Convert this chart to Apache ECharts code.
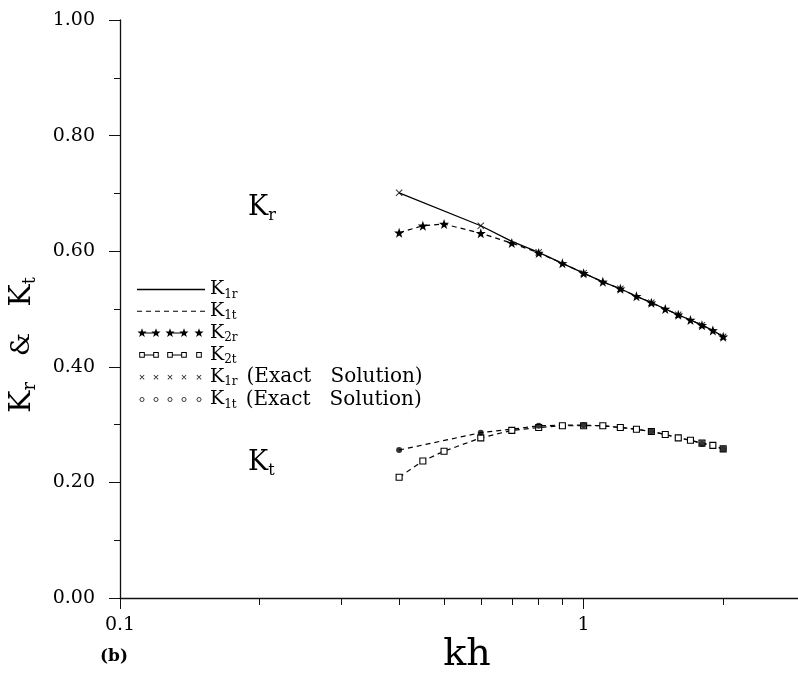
<!DOCTYPE html>
<html>
<head>
<meta charset="utf-8">
<title>Kr & Kt vs kh</title>
<script src="https://cdn.jsdelivr.net/npm/echarts@6/dist/echarts.min.js"></script>
<style>
  html, body { margin: 0; padding: 0; background: #fff; }
  #chart { width: 798px; height: 679px; }
</style>
</head>
<body>
<div id="chart"></div>
<script>
// kh values where the curves were computed
const khK2 = [0.4, 0.45, 0.5, 0.6, 0.7, 0.8, 0.9, 1.0, 1.1, 1.2, 1.3, 1.4, 1.5, 1.6, 1.7, 1.8, 1.9, 2.0]
const k2r = [0.632, 0.644, 0.647, 0.631, 0.614, 0.597, 0.579, 0.562, 0.547, 0.535, 0.522, 0.511, 0.500, 0.490, 0.481, 0.472, 0.463, 0.452]
const k2t = [0.209, 0.237, 0.254, 0.277, 0.290, 0.295, 0.298, 0.298, 0.298, 0.295, 0.292, 0.288, 0.283, 0.277, 0.273, 0.268, 0.264, 0.258]

const khK1 = [0.4, 0.6, 0.7, 0.8, 0.9, 1.0, 1.1, 1.2, 1.3, 1.4, 1.5, 1.6, 1.7, 1.8, 1.9, 2.0]
const k1r = [0.701, 0.644, 0.617, 0.598, 0.579, 0.562, 0.547, 0.535, 0.522, 0.511, 0.500, 0.490, 0.481, 0.472, 0.463, 0.452]
const k1t = [0.256, 0.286, 0.292, 0.298, 0.299, 0.299, 0.298, 0.295, 0.292, 0.288, 0.283, 0.277, 0.273, 0.267, 0.263, 0.258]

// exact solution points
const khExactR = [0.4, 0.6, 0.8, 1.0, 1.2, 1.4, 1.6, 1.8, 2.0]
const k1rExact = [0.701, 0.644, 0.598, 0.562, 0.535, 0.511, 0.490, 0.472, 0.452]
const khExactT = [0.4, 0.6, 0.8, 1.0, 1.4, 1.8, 2.0]
const k1tExact = [0.256, 0.286, 0.298, 0.299, 0.288, 0.267, 0.258]

// axis ticks and labels
const xMinorTicks = [0.2, 0.3, 0.4, 0.5, 0.6, 0.7, 0.8, 0.9, 2]
const xMajorTicks = [0.1, 1]
const xLabels = ['0.1', '1']

const pair = (xs, ys) => xs.map((x, i) => [x, ys[i]])

const FONT = 'DejaVu Serif'
const STAR = 'path://M0,-10 L2.35,-3.24 L9.51,-3.09 L3.8,1.24 L5.88,8.09 L0,4 L-5.88,8.09 L-3.8,1.24 L-9.51,-3.09 L-2.35,-3.24 Z'
const CROSS = 'path://M0,1 L1,0 L5,4 L9,0 L10,1 L6,5 L10,9 L9,10 L5,6 L1,10 L0,9 L4,5 Z'

// legend icons: five little marks in a 70x10 box
const IW = 68
const IH = 10
const CX = [5, 19, 33, 47, 62]
const f = n => n.toFixed(2)
function iconPath (parts) {
  return 'path://M0 0 M' + IW + ' ' + IH + ' ' + parts.join(' ')
}
function bar (x0, x1, y, h) {
  return `M${f(x0)} ${f(y - h / 2)} L${f(x1)} ${f(y - h / 2)} L${f(x1)} ${f(y + h / 2)} L${f(x0)} ${f(y + h / 2)} Z`
}
function star (cx, cy, R, r) {
  let s = ''
  for (let i = 0; i < 10; i++) {
    const a = -Math.PI / 2 + i * Math.PI / 5
    const rr = i % 2 ? r : R
    s += (i ? 'L' : 'M') + f(cx + rr * Math.cos(a)) + ' ' + f(cy + rr * Math.sin(a)) + ' '
  }
  return s + 'Z'
}
function box (cx, cy, s, w) {
  const o = `M${f(cx - s)} ${f(cy - s)} L${f(cx + s)} ${f(cy - s)} L${f(cx + s)} ${f(cy + s)} L${f(cx - s)} ${f(cy + s)} Z`
  const t = s - w
  const i = `M${f(cx - t)} ${f(cy - t)} L${f(cx - t)} ${f(cy + t)} L${f(cx + t)} ${f(cy + t)} L${f(cx + t)} ${f(cy - t)} Z`
  return o + ' ' + i
}
function cross (cx, cy, s) {
  const d = 0.6
  return `M${f(cx - s)} ${f(cy - s + d)} L${f(cx - s + d)} ${f(cy - s)} L${f(cx)} ${f(cy - d)} L${f(cx + s - d)} ${f(cy - s)} L${f(cx + s)} ${f(cy - s + d)} L${f(cx + d)} ${f(cy)} ` +
    `L${f(cx + s)} ${f(cy + s - d)} L${f(cx + s - d)} ${f(cy + s)} L${f(cx)} ${f(cy + d)} L${f(cx - s + d)} ${f(cy + s)} L${f(cx - s)} ${f(cy + s - d)} L${f(cx - d)} ${f(cy)} Z`
}
function ring (cx, cy, r, w) {
  let o = ''
  let i = ''
  for (let k = 0; k < 8; k++) {
    const a = k * Math.PI / 4
    o += (k ? 'L' : 'M') + f(cx + r * Math.cos(a)) + ' ' + f(cy + r * Math.sin(a)) + ' '
    const b = -k * Math.PI / 4
    i += (k ? 'L' : 'M') + f(cx + (r - w) * Math.cos(b)) + ' ' + f(cy + (r - w) * Math.sin(b)) + ' '
  }
  return o + 'Z ' + i + 'Z'
}
function dashes (y) {
  const p = []
  for (let x = 0; x < IW; x += 9) p.push(bar(x, Math.min(x + 5, IW), y, 1))
  return p
}

const icons = {
  solid: iconPath([bar(0, IW, 5, 1.3)]),
  dashed: iconPath(dashes(5)),
  stars: iconPath(CX.map(x => star(x, 5, 4.8, 2)).concat([bar(CX[0], CX[1], 5, 1), bar(CX[2], CX[3], 5, 1)])),
  boxes: iconPath(CX.map(x => box(x, 5, 2.8, 1)).concat([bar(CX[0] + 2.8, CX[1] - 2.8, 5, 1), bar(CX[2] + 2.8, CX[3] - 2.8, 5, 1)])),
  crosses: iconPath(CX.map(x => cross(x, 5, 2.5))),
  rings: iconPath(CX.map(x => ring(x, 5, 2.6, 1)))
}

const legendText = {
  'K1r': '{b|K}{s|1r}',
  'K1t': '{b|K}{s|1t}',
  'K2r': '{b|K}{s|2r}',
  'K2t': '{b|K}{s|2t}',
  'K1r exact': '{b|K}{s|1r}{e|(Exact   Solution)}',
  'K1t exact': '{b|K}{s|1t}{e|(Exact   Solution)}'
}

const chart = echarts.init(document.getElementById('chart'))

const axisLineStyle = { color: '#111', width: 1.3 }

const option = {
  backgroundColor: '#fff',
  animation: false,
  grid: { left: 120, right: 0, top: 20, bottom: 71, containLabel: false },
  legend: {
    orient: 'vertical',
    left: 132,
    top: 275,
    itemWidth: IW,
    itemHeight: IH,
    itemGap: 1.3,
    selectedMode: false,
    itemStyle: { color: '#000', borderWidth: 0 },
    data: [
      { name: 'K1r', icon: icons.solid },
      { name: 'K1t', icon: icons.dashed },
      { name: 'K2r', icon: icons.stars },
      { name: 'K2t', icon: icons.boxes },
      { name: 'K1r exact', icon: icons.crosses },
      { name: 'K1t exact', icon: icons.rings }
    ],
    formatter: name => legendText[name],
    textStyle: {
      color: '#000',
      fontFamily: FONT,
      rich: {
        b: { fontFamily: FONT, fontSize: 19, lineHeight: 22, color: '#000' },
        s: { fontFamily: FONT, fontSize: 12, lineHeight: 12, verticalAlign: 'bottom', color: '#000' },
        e: { fontFamily: FONT, fontSize: 20, lineHeight: 22, color: '#000', padding: [0, 0, 0, 9] }
      }
    }
  },
  xAxis: [
    {
      type: 'log',
      logBase: 10,
      min: 0.1,
      max: 2.9,
      name: 'kh',
      nameLocation: 'middle',
      nameGap: 38,
      nameTextStyle: { fontFamily: FONT, fontSize: 38, color: '#000', padding: [0, 0, 0, 16] },
      axisLine: { lineStyle: axisLineStyle },
      axisTick: { show: true, inside: false, length: 7, lineStyle: { color: '#111' }, customValues: xMinorTicks },
      axisLabel: { show: false },
      splitLine: { show: false }
    },
    {
      type: 'log',
      logBase: 10,
      min: 0.1,
      max: 2.9,
      position: 'bottom',
      axisLine: { show: false },
      axisTick: { show: true, length: 11, lineStyle: { color: '#111' }, customValues: xMajorTicks },
      axisLabel: {
        show: true,
        margin: 18,
        customValues: xMajorTicks,
        formatter: v => (v < 0.5 ? xLabels[0] : xLabels[1]),
        fontFamily: FONT,
        fontSize: 19,
        color: '#000'
      },
      splitLine: { show: false }
    }
  ],
  yAxis: [
    {
      type: 'value',
      min: 0,
      max: 1,
      interval: 0.1,
      axisLine: { show: true, lineStyle: axisLineStyle },
      axisTick: { show: true, length: 6, lineStyle: { color: '#111' } },
      axisLabel: { show: false },
      splitLine: { show: false }
    },
    {
      type: 'value',
      min: 0,
      max: 1,
      interval: 0.2,
      position: 'left',
      axisLine: { show: false },
      axisTick: { show: true, length: 11, lineStyle: { color: '#111' } },
      axisLabel: {
        margin: 25,
        formatter: v => v.toFixed(2),
        fontFamily: FONT,
        fontSize: 19,
        color: '#000'
      },
      splitLine: { show: false }
    }
  ],
  graphic: [
    {
      // y axis title
      type: 'text',
      x: 22,
      y: 345,
      rotation: Math.PI / 2,
      style: {
        text: '{b|K}{s|r}{a|&}{b|K}{s|t}',
        align: 'center',
        verticalAlign: 'middle',
        fill: '#000',
        rich: {
          b: { fontFamily: FONT, fontSize: 30, lineHeight: 34, fill: '#000' },
          s: { fontFamily: FONT, fontSize: 18, lineHeight: 18, verticalAlign: 'bottom', fill: '#000' },
          a: { fontFamily: FONT, fontSize: 26, lineHeight: 34, fill: '#000', padding: [0, 26, 0, 26] }
        }
      }
    },
    {
      type: 'text',
      x: 248,
      y: 192,
      style: {
        text: '{b|K}{s|r}',
        fill: '#000',
        rich: {
          b: { fontFamily: FONT, fontSize: 27, lineHeight: 32, fill: '#000' },
          s: { fontFamily: FONT, fontSize: 16, lineHeight: 16, verticalAlign: 'bottom', fill: '#000' }
        }
      }
    },
    {
      type: 'text',
      x: 248,
      y: 447,
      style: {
        text: '{b|K}{s|t}',
        fill: '#000',
        rich: {
          b: { fontFamily: FONT, fontSize: 27, lineHeight: 32, fill: '#000' },
          s: { fontFamily: FONT, fontSize: 16, lineHeight: 16, verticalAlign: 'bottom', fill: '#000' }
        }
      }
    },
    {
      type: 'text',
      x: 100,
      y: 648,
      style: { text: '(b)', fill: '#000', font: 'bold 17px "DejaVu Serif"' }
    }
  ],
  series: [
    {
      name: 'K1r',
      type: 'line',
      data: pair(khK1, k1r),
      showSymbol: false,
      symbol: 'none',
      lineStyle: { color: '#000', width: 1.3, type: 'solid' },
      z: 2
    },
    {
      name: 'K1t',
      type: 'line',
      data: pair(khK1, k1t),
      showSymbol: false,
      symbol: 'none',
      lineStyle: { color: '#000', width: 1.2, type: [5, 4] },
      z: 2
    },
    {
      name: 'K2r',
      type: 'line',
      data: pair(khK2, k2r),
      symbol: STAR,
      symbolSize: 10,
      itemStyle: { color: '#000', borderWidth: 0 },
      lineStyle: { color: '#000', width: 1.2, type: [5, 4] },
      z: 3
    },
    {
      name: 'K2t',
      type: 'line',
      data: pair(khK2, k2t),
      symbol: 'rect',
      symbolSize: 6,
      itemStyle: { color: '#fff', borderColor: '#000', borderWidth: 1.1 },
      lineStyle: { color: '#000', width: 1.2, type: [5, 4] },
      z: 3
    },
    {
      name: 'K1r exact',
      type: 'scatter',
      data: pair(khExactR, k1rExact),
      symbol: CROSS,
      symbolSize: 7,
      itemStyle: { color: '#000' },
      z: 4
    },
    {
      name: 'K1t exact',
      type: 'scatter',
      data: pair(khExactT, k1tExact),
      symbol: 'circle',
      symbolSize: 6,
      itemStyle: { color: '#000' },
      z: 4
    }
  ]
}

chart.setOption(option)
</script>
</body>
</html>
